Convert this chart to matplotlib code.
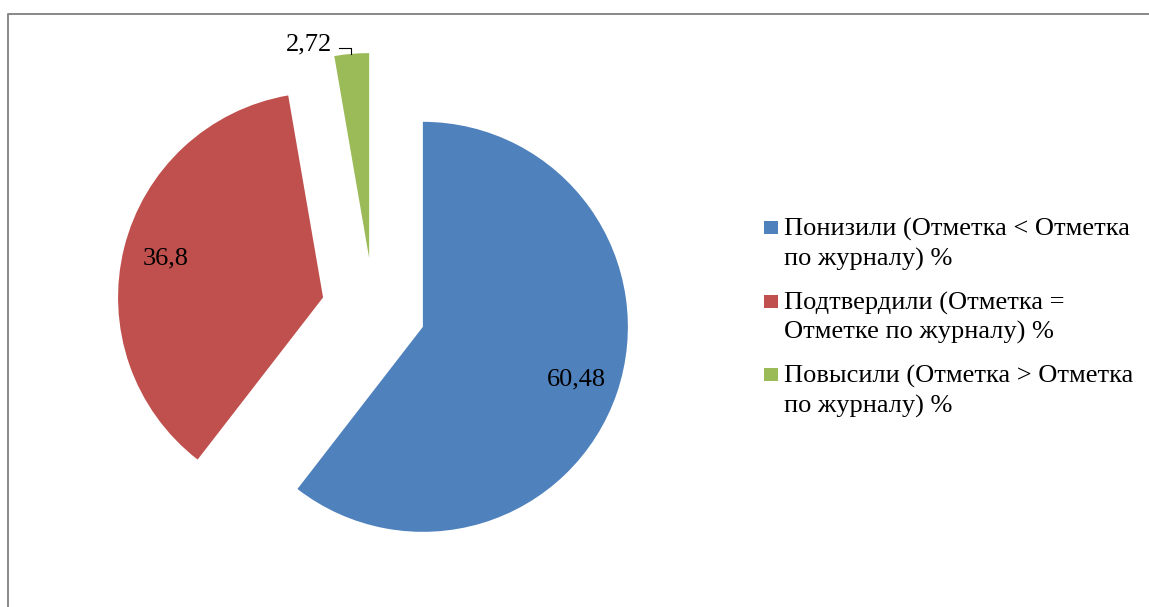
import numpy as np
import matplotlib
matplotlib.use("Agg")
import matplotlib.pyplot as plt
from matplotlib.lines import Line2D
from matplotlib.patches import Rectangle

# --- data ---
labels = [
    "Понизили (Отметка < Отметка\nпо журналу) %",
    "Подтвердили (Отметка =\nОтметке по журналу) %",
    "Повысили (Отметка > Отметка\nпо журналу) %",
]
values = [60.48, 36.8, 2.72]
colors = ["#4F81BD", "#C0504D", "#9BBB59"]

W, H = 1149, 607
plt.rcParams['font.family'] = ['Liberation Serif', 'DejaVu Serif']
FS = 19
R = 205


def fmt_value(v):
    s = f"{v:.2f}".rstrip('0').rstrip('.')
    return s.replace('.', ',')


total = sum(values)

fig = plt.figure(figsize=(W / 100, H / 100), dpi=100)
ax = fig.add_axes([0, 0, 1, 1])

# explode is given in data units here, so scale by the radius
wedges, texts, autotexts = ax.pie(
    values,
    explode=[0.254 * R] * len(values),
    colors=colors,
    startangle=90,
    counterclock=False,
    radius=R,
    center=(373.6, H - 310),
    autopct=lambda p: fmt_value(p * total / 100),
    pctdistance=0.79,
    textprops={'fontsize': FS, 'color': 'black'},
)

ax.set_xlim(0, W)
ax.set_ylim(0, H)
ax.set_aspect('equal')
ax.axis('off')

# small slice: label outside with a leader line to its outer arc
g = wedges[2]
a = np.deg2rad(max(g.theta1, g.theta2))
cx, cy = g.center
px, py = cx + g.r * np.cos(a), cy + g.r * np.sin(a)
lx = px + 17
ly = cy + np.sqrt(g.r ** 2 - (lx - cx) ** 2)
ax.plot([lx, lx, lx - 12], [ly, ly + 6, ly + 6], color='black', lw=0.8)
autotexts[2].set_position((px - 2, py + 12))
autotexts[2].set_ha('right')

# legend drawn by hand (square aligned with first line)
for i, (lab, col) in enumerate(zip(labels, colors)):
    y_sq = 221 + 73.5 * i
    fig.add_artist(Rectangle((764 / W, 1 - (y_sq + 13) / H), 14 / W, 13 / H,
                             transform=fig.transFigure, color=col, lw=0))
    fig.text(784 / W, 1 - (y_sq - 3) / H, lab, fontsize=FS, va='top', ha='left',
             linespacing=1.37)

# chart frame (partly outside the picture)
frame_col = '#888888'
fig.add_artist(Line2D([7.5 / W, 7.5 / W, 1.0], [0.0, 1 - 14 / H, 1 - 14 / H],
                      transform=fig.transFigure, color=frame_col, lw=1.4))

fig.savefig("out.png", dpi=100)
